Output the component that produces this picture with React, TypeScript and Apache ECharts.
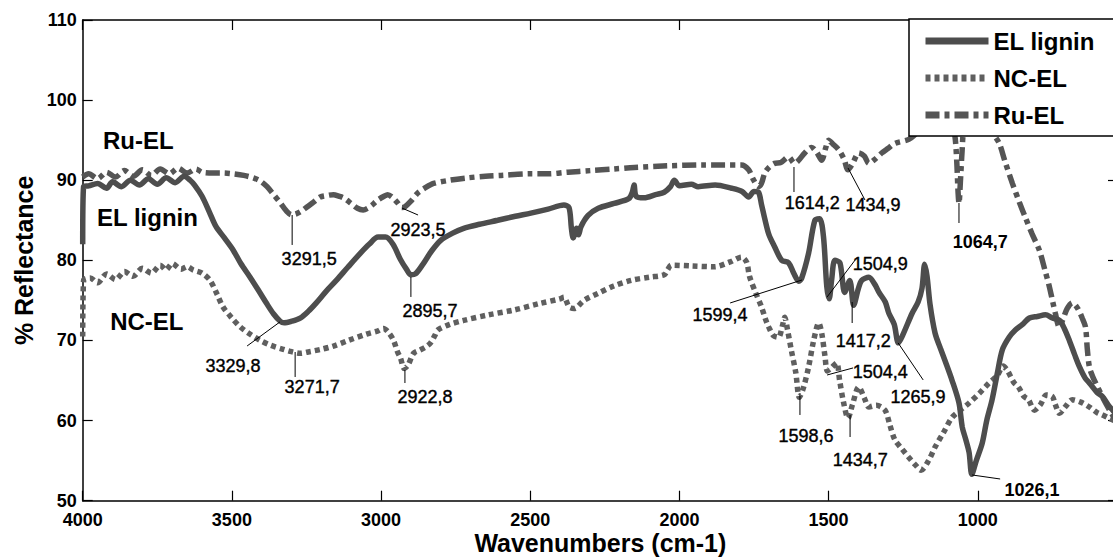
import React, { useEffect, useRef } from "react";
import * as echarts from "echarts";

const FONT = "'Liberation Sans', Arial, Helvetica, sans-serif";

const X_TICKS = [1000, 1500, 2000, 2500, 3000, 3500, 4000];
const SERIES_NAMES = ["EL lignin", "NC-EL", "Ru-EL"];

const elLignin: [number, number][] = [
  [4000, 82], [3997, 89.2], [3980, 89.3], [3950, 89.6], [3920, 89.0], [3900, 89.8], [3870, 89.2],
  [3840, 90.0], [3810, 89.4], [3780, 90.2], [3750, 89.5], [3720, 90.3], [3690, 89.7], [3660, 90.5],
  [3640, 90.0], [3625, 89.4], [3600, 88.0], [3575, 86.0], [3553, 84.2], [3525, 82.8], [3496, 81.3],
  [3470, 79.6], [3439, 77.9], [3410, 76.2], [3385, 74.7], [3360, 73.3], [3338, 72.4], [3325, 72.2],
  [3300, 72.4], [3271, 72.8], [3245, 73.6], [3217, 74.7], [3185, 76.1], [3150, 77.5], [3110, 79.2],
  [3069, 80.9], [3040, 82.0], [3010, 82.9], [2985, 82.9], [2960, 82.0], [2935, 80.1], [2915, 78.9],
  [2900, 78.2], [2885, 78.3], [2860, 79.5], [2830, 81.2], [2800, 82.5], [2760, 83.4], [2723, 84.0],
  [2670, 84.5], [2609, 85.0], [2550, 85.5], [2498, 85.9], [2440, 86.4], [2387, 86.9], [2370, 86.6],
  [2362, 84.0], [2356, 82.8], [2345, 84.0], [2338, 83.2], [2330, 84.2], [2306, 85.6], [2272, 86.5],
  [2219, 87.1], [2170, 87.7], [2158, 88.5], [2152, 89.4], [2145, 88.0], [2118, 87.8], [2080, 88.2],
  [2051, 88.5], [2030, 89.2], [2017, 90.0], [2000, 89.3], [1960, 89.5], [1937, 89.2], [1880, 89.4],
  [1825, 89.0], [1790, 88.6], [1768, 87.9], [1750, 88.6], [1735, 88.5], [1725, 87.0], [1714, 85.2],
  [1700, 83.2], [1681, 81.7], [1657, 80.0], [1634, 79.7], [1617, 78.4], [1600, 77.4], [1590, 77.8],
  [1567, 80.9], [1546, 85.0], [1530, 85.2], [1517, 82.9], [1506, 76.7], [1498, 75.2], [1490, 77.5],
  [1479, 80.0], [1462, 79.7], [1446, 76.0], [1429, 77.5], [1416, 74.4], [1400, 76.5], [1389, 77.5],
  [1365, 77.9], [1345, 77.0], [1331, 76.0], [1310, 74.8], [1298, 73.4], [1280, 72.0], [1266, 69.7],
  [1250, 70.8], [1220, 73.4], [1200, 74.8], [1187, 76.5], [1178, 79.5], [1170, 78.0], [1160, 74.5],
  [1143, 70.9], [1125, 69.0], [1110, 67.5], [1086, 65.0], [1063, 62.2], [1052, 59.2], [1040, 57.6],
  [1029, 56.0], [1020, 53.3], [1005, 55.0], [985, 57.2], [970, 60.0], [952, 62.6], [935, 65.8],
  [918, 68.8], [895, 70.4], [874, 71.3], [850, 72.0], [827, 72.8], [800, 73.0], [773, 73.2],
  [750, 72.8], [726, 72.5], [710, 71.5], [693, 70.0], [675, 68.2], [659, 66.7], [640, 65.3],
  [626, 64.7], [600, 63.5], [582, 63.0], [560, 61.8], [548, 61.3], [530, 60.5],
];

const ncEl: [number, number][] = [
  [4000, 70.5], [3997, 77.5], [3975, 77.8], [3950, 77.2], [3920, 78.3], [3890, 77.6], [3860, 78.6],
  [3832, 78.0], [3800, 79.0], [3770, 78.4], [3740, 79.4], [3721, 78.8], [3700, 79.6], [3670, 78.9],
  [3650, 79.2], [3630, 78.8], [3600, 78.4], [3573, 77.5], [3550, 75.8], [3530, 74.2], [3500, 72.8],
  [3472, 71.7], [3440, 70.8], [3405, 70.0], [3370, 69.4], [3328, 68.9], [3300, 68.6], [3271, 68.4],
  [3240, 68.6], [3200, 68.9], [3160, 69.3], [3110, 70.0], [3049, 70.8], [3010, 71.2], [2992, 71.5],
  [2975, 71.0], [2958, 70.0], [2945, 68.6], [2935, 67.8], [2922, 66.5], [2910, 66.9], [2891, 68.4],
  [2870, 68.8], [2850, 69.2], [2834, 69.7], [2820, 70.6], [2810, 71.3], [2770, 72.0], [2723, 72.5],
  [2640, 73.2], [2555, 73.8], [2470, 74.6], [2400, 75.2], [2387, 75.4], [2370, 74.2], [2353, 74.0],
  [2320, 75.0], [2272, 75.9], [2220, 76.8], [2162, 77.5], [2100, 77.9], [2051, 78.2], [2040, 78.8],
  [2027, 79.4], [1960, 79.3], [1883, 79.2], [1830, 79.8], [1792, 80.4], [1775, 79.8], [1765, 78.0],
  [1745, 76.0], [1725, 74.2], [1710, 72.5], [1701, 71.7], [1685, 70.6], [1668, 70.4], [1655, 71.8],
  [1647, 72.9], [1638, 71.4], [1625, 68.8], [1610, 66.0], [1598, 62.9], [1585, 64.0], [1567, 66.7],
  [1550, 70.0], [1533, 72.2], [1523, 70.9], [1512, 68.0], [1504, 66.2], [1490, 66.6], [1473, 67.2],
  [1463, 65.0], [1450, 62.3], [1435, 60.3], [1420, 62.0], [1399, 64.2], [1380, 62.8], [1365, 61.7],
  [1340, 61.9], [1311, 61.3], [1295, 59.5], [1278, 57.6], [1255, 56.5], [1231, 55.4], [1210, 54.5],
  [1190, 53.8], [1165, 55.0], [1143, 56.7], [1115, 58.5], [1086, 60.4], [1055, 61.4], [1029, 62.2],
  [995, 63.4], [962, 64.7], [935, 65.6], [915, 66.8], [900, 66.2], [880, 64.8], [864, 64.2],
  [845, 63.0], [830, 62.6], [810, 61.3], [790, 62.0], [770, 63.2], [750, 63.0], [740, 62.0],
  [726, 60.9], [705, 61.8], [683, 62.6], [655, 62.3], [626, 61.7], [600, 61.0], [582, 60.7],
  [560, 60.3], [530, 59.8],
];

const ruEl: [number, number][] = [
  [4000, 90.4], [3980, 90.8], [3950, 90.2], [3920, 91.0], [3890, 90.4], [3860, 91.2], [3830, 90.5],
  [3800, 91.3], [3770, 90.6], [3740, 91.4], [3710, 90.8], [3680, 91.5], [3650, 90.9], [3620, 91.4],
  [3600, 91.0], [3560, 90.9], [3530, 90.9], [3496, 90.8], [3460, 90.6], [3429, 90.3], [3405, 89.9],
  [3382, 89.2], [3360, 88.2], [3338, 87.2], [3318, 86.2], [3300, 85.7], [3285, 85.8], [3265, 86.2],
  [3247, 86.7], [3225, 87.3], [3204, 87.9], [3180, 88.1], [3160, 88.2], [3140, 88.0], [3126, 87.8],
  [3100, 87.1], [3079, 86.5], [3060, 86.3], [3045, 86.5], [3030, 86.9], [3012, 87.5], [2990, 88.0],
  [2978, 88.2], [2960, 87.8], [2945, 87.2], [2930, 86.6], [2920, 86.7], [2900, 87.4], [2877, 88.4],
  [2850, 89.1], [2824, 89.6], [2770, 90.0], [2710, 90.3], [2650, 90.5], [2598, 90.6], [2500, 90.8],
  [2440, 90.8], [2373, 91.0], [2300, 91.2], [2220, 91.4], [2151, 91.6], [2040, 91.8], [1926, 91.9],
  [1850, 91.9], [1792, 91.9], [1768, 91.3], [1751, 90.0], [1735, 89.2], [1725, 89.6], [1714, 90.9],
  [1700, 91.6], [1681, 92.1], [1660, 92.2], [1634, 92.9], [1614, 92.1], [1600, 92.5], [1580, 93.4],
  [1557, 94.1], [1540, 93.5], [1523, 92.5], [1510, 94.0], [1500, 95.0], [1485, 94.5], [1466, 93.8],
  [1448, 92.6], [1435, 91.3], [1418, 92.2], [1399, 93.4], [1380, 93.0], [1365, 92.1], [1345, 92.6],
  [1322, 93.4], [1300, 94.0], [1278, 94.6], [1231, 95.1], [1200, 96.0], [1150, 97.0], [1100, 97.2],
  [1082, 96.5], [1075, 95.0], [1070, 92.0], [1066, 88.5], [1063, 87.1], [1058, 90.0], [1052, 94.0],
  [1046, 96.5], [1030, 97.2], [1000, 97.5], [965, 97.0], [950, 95.9], [928, 94.6], [910, 92.5],
  [884, 89.6], [860, 87.2], [841, 85.4], [818, 83.3], [794, 81.3], [775, 78.8], [760, 76.7],
  [748, 74.7], [740, 73.4], [727, 71.7], [715, 72.6], [700, 74.0], [683, 74.7], [665, 74.0],
  [650, 72.8], [639, 71.7], [633, 69.0], [626, 66.7], [615, 65.5], [605, 64.7], [580, 62.8],
  [558, 61.3], [530, 59.6],
];

// peak annotations: text position and leader line ends, in data units
const peakLabels = [
  { text: "3291,5", tx: 3241, ty: 80.17, x1: 3298, y1: 85.66, x2: 3298, y2: 81.92, bold: false },
  { text: "3329,8", tx: 3496, ty: 66.81, x1: 3339, y1: 72.31, x2: 3449, y2: 69.31, bold: false },
  { text: "3271,7", tx: 3231, ty: 64.19, x1: 3288, y1: 68.56, x2: 3288, y2: 65.44, bold: false },
  { text: "2923,5", tx: 2876, ty: 83.79, x1: 2930, y1: 86.53, x2: 2876, y2: 85.66, bold: false },
  { text: "2895,7", tx: 2836, ty: 73.68, x1: 2900, y1: 77.92, x2: 2900, y2: 75.43, bold: false },
  { text: "2922,8", tx: 2853, ty: 62.95, x1: 2920, y1: 66.31, x2: 2920, y2: 64.69, bold: false },
  { text: "1599,4", tx: 1864, ty: 73.18, x1: 1589, y1: 77.55, x2: 1830, y2: 74.68, bold: false },
  { text: "1504,9", tx: 1327, ty: 79.55, x1: 1505, y1: 75.43, x2: 1411, y2: 80.04, bold: false },
  { text: "1417,2", tx: 1384, ty: 69.94, x1: 1421, y1: 74.8, x2: 1421, y2: 72.18, bold: false },
  { text: "1614,2", tx: 1555, ty: 87.16, x1: 1616, y1: 91.65, x2: 1616, y2: 88.53, bold: false },
  { text: "1434,9", tx: 1351, ty: 86.91, x1: 1435, y1: 91.53, x2: 1378, y2: 87.53, bold: false },
  { text: "1064,7", tx: 992, ty: 82.29, x1: 1063, y1: 87.16, x2: 1063, y2: 84.66, bold: true },
  { text: "1598,6", tx: 1576, ty: 58.08, x1: 1596, y1: 63.44, x2: 1596, y2: 60.7, bold: false },
  { text: "1504,4", tx: 1327, ty: 66.07, x1: 1505, y1: 65.69, x2: 1418, y2: 66.57, bold: false },
  { text: "1434,7", tx: 1394, ty: 55.08, x1: 1428, y1: 60.7, x2: 1428, y2: 57.95, bold: false },
  { text: "1265,9", tx: 1200, ty: 62.95, x1: 1267, y1: 69.69, x2: 1183, y2: 65.07, bold: false },
  { text: "1026,1", tx: 818, ty: 51.34, x1: 1019, y1: 53.21, x2: 925, y2: 52.71, bold: true },
];

const seriesLabels = [
  { text: "Ru-EL", x: 3932, y: 94.9 },
  { text: "EL lignin", x: 3952, y: 85.29 },
  { text: "NC-EL", x: 3908, y: 72.31 },
];

export default function App() {
  const ref = useRef<HTMLDivElement>(null);
  useEffect(() => {
    if (!ref.current) return;
    const chart = echarts.init(ref.current, null, { renderer: "svg" });
    const axisLineStyle = { color: "#000", width: 1.5 };
    const tickStyle = { color: "#000", width: 1.2 };
    chart.setOption({
      animation: false,
      backgroundColor: "#fff",
      grid: { left: 82.7, right: -5, top: 20, bottom: 56.3, containLabel: false, outerBoundsMode: "none" },
      legend: {
        orient: "vertical",
        left: 909,
        top: 19,
        itemWidth: 63,
        itemHeight: 14,
        itemGap: 9,
        padding: [8, 30, 7, 13],
        backgroundColor: "#fff",
        borderColor: "#000",
        borderWidth: 1.5,
        borderRadius: 0,
        data: SERIES_NAMES,
        itemStyle: { opacity: 0 },
        lineStyle: { width: 7 },
        textStyle: { fontSize: 24, fontWeight: "bold", fontFamily: FONT, color: "#000", lineHeight: 28 },
      },
      xAxis: [
        {
          type: "value", min: 530, max: 4000, inverse: true, position: "bottom",
          axisLine: { show: true, onZero: false, lineStyle: axisLineStyle },
          axisTick: { show: true, inside: true, length: 10, customValues: X_TICKS, lineStyle: tickStyle },
          axisLabel: {
            customValues: X_TICKS, formatter: (v: number) => String(v),
            color: "#000", fontSize: 18, fontWeight: "bold", fontFamily: FONT, margin: 10, lineHeight: 18,
          },
          splitLine: { show: false },
          name: "Wavenumbers (cm-1)", nameLocation: "middle", nameGap: 30, nameMoveOverlap: false,
          nameTextStyle: { fontSize: 25, fontWeight: "bold", fontFamily: FONT, color: "#000", lineHeight: 25 },
        },
        {
          type: "value", min: 530, max: 4000, inverse: true, position: "top",
          axisLine: { show: true, onZero: false, lineStyle: axisLineStyle },
          axisTick: { show: true, inside: true, length: 10, customValues: X_TICKS, lineStyle: tickStyle },
          axisLabel: { show: false },
          splitLine: { show: false },
        },
      ],
      yAxis: [
        {
          type: "value", min: 50, max: 110, interval: 10, position: "left",
          axisLine: { show: true, onZero: false, lineStyle: axisLineStyle },
          axisTick: { show: true, inside: true, length: 10, lineStyle: tickStyle },
          axisLabel: { color: "#000", fontSize: 18, fontWeight: "bold", fontFamily: FONT, margin: 6, lineHeight: 16 },
          splitLine: { show: false },
          name: "% Reflectance", nameLocation: "middle", nameGap: 46, nameRotate: 90, nameMoveOverlap: false,
          nameTextStyle: { fontSize: 25, fontWeight: "bold", fontFamily: FONT, color: "#000" },
        },
        {
          type: "value", min: 50, max: 110, interval: 10, position: "right",
          axisLine: { show: true, onZero: false, lineStyle: axisLineStyle },
          axisTick: { show: true, inside: true, length: 10, lineStyle: tickStyle },
          axisLabel: { show: false },
          splitLine: { show: false },
        },
      ],
      series: [
        {
          name: "EL lignin", type: "line", data: elLignin, symbol: "none", smooth: 0.3,
          lineStyle: { color: "#4d4d4d", width: 5.5, type: "solid" }, itemStyle: { color: "#4d4d4d" }, z: 3,
        },
        {
          name: "NC-EL", type: "line", data: ncEl, symbol: "none", smooth: 0.3,
          lineStyle: { color: "#5f5f5f", width: 5.5, type: [5, 4], cap: "butt" }, itemStyle: { color: "#5f5f5f" }, z: 2,
        },
        {
          name: "Ru-EL", type: "line", data: ruEl, symbol: "none", smooth: 0.3,
          lineStyle: { color: "#555555", width: 5.5, type: [14, 5, 5, 5], cap: "butt" }, itemStyle: { color: "#555555" }, z: 2,
        },
        {
          type: "custom", name: "peaks", data: peakLabels.map((a) => [a.tx, a.ty]), z: 5, clip: false,
          renderItem: (params: any, api: any) => {
            const a = peakLabels[params.dataIndex];
            const t = api.coord([a.tx, a.ty]);
            const p1 = api.coord([a.x1, a.y1]);
            const p2 = api.coord([a.x2, a.y2]);
            return {
              type: "group",
              children: [
                { type: "line", shape: { x1: p1[0], y1: p1[1], x2: p2[0], y2: p2[1] }, style: { stroke: "#000", lineWidth: 1 } },
                {
                  type: "text", x: t[0], y: t[1],
                  style: {
                    text: a.text, fill: "#000", fontSize: 18, fontWeight: a.bold ? "bold" : "normal", fontFamily: FONT,
                    align: "center", verticalAlign: "middle", stroke: "#000", lineWidth: a.bold ? 0 : 0.4,
                  },
                },
              ],
            };
          },
        },
        {
          type: "custom", name: "names", data: seriesLabels.map((a) => [a.x, a.y]), z: 5, clip: false,
          renderItem: (params: any, api: any) => {
            const a = seriesLabels[params.dataIndex];
            const t = api.coord([a.x, a.y]);
            return {
              type: "text", x: t[0], y: t[1],
              style: { text: a.text, fill: "#000", fontSize: 24, fontWeight: "bold", fontFamily: FONT, align: "left", verticalAlign: "middle" },
            };
          },
        },
      ],
    });
    return () => chart.dispose();
  }, []);
  return <div ref={ref} style={{ position: "absolute", left: 0, top: 0, width: 1113, height: 557 }} />;
}
